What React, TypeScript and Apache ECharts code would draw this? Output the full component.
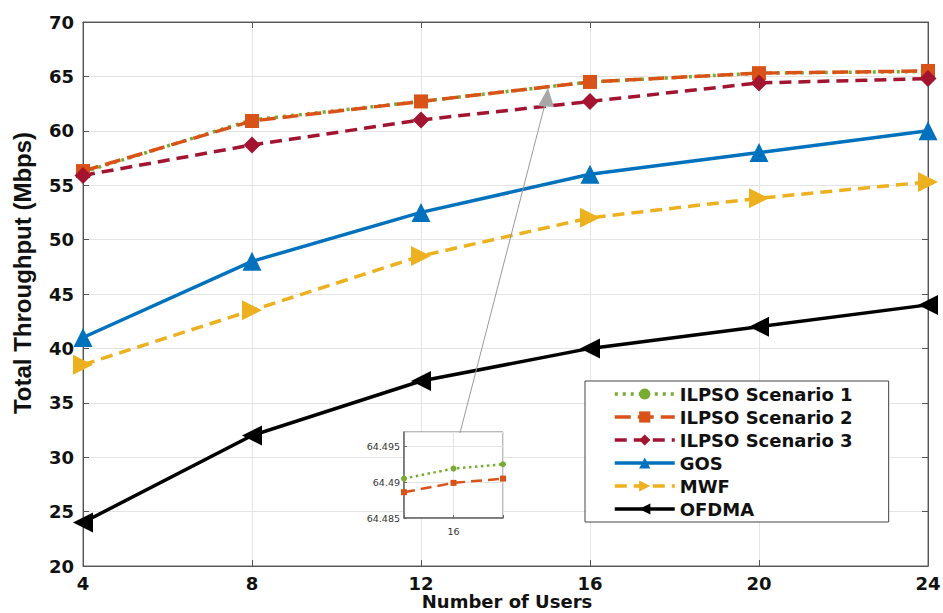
import React, { useEffect, useRef } from "react";
import * as echarts from "echarts";

const users = [4, 8, 12, 16, 20, 24];
const ilpso1 = [56.2, 61.0, 62.7, 64.49, 65.3, 65.45];
const ilpso2 = [56.3, 60.9, 62.7, 64.49, 65.3, 65.5];
const ilpso3 = [55.9, 58.7, 61.0, 62.7, 64.4, 64.8];
const gos = [41, 48, 52.5, 56, 58, 60];
const mwf = [38.5, 43.5, 48.5, 52, 53.8, 55.3];
const ofdma = [24, 32, 37, 40, 42, 44];

const insetX = [15, 16, 17];
const insetIlpso1 = [64.4905, 64.4919, 64.4925];
const insetIlpso2 = [64.4886, 64.4899, 64.4905];

const yTicks = { min: 20, max: 70, interval: 5 };
const xTicks = { min: 4, max: 24, interval: 4 };

const names = ["ILPSO Scenario 1", "ILPSO Scenario 2", "ILPSO Scenario 3", "GOS", "MWF", "OFDMA"];
const yTitle = "Total Throughput (Mbps)";
const xTitle = "Number of Users";

const pair = (xs: number[], ys: number[]) => xs.map((x, i) => [x, ys[i]]);

export default function App() {
  const ref = useRef<HTMLDivElement>(null);
  useEffect(() => {
    if (!ref.current) return;
    const chart = echarts.init(ref.current, undefined, { renderer: "svg" });
    const bold = "DejaVu Sans";
    const lw = 3.5;
    const mainSeries = (name: string, ys: number[], color: string, type: any, symbol: string, size: number, rotate = 0) => ({
      name,
      type: "line",
      xAxisIndex: 0,
      yAxisIndex: 0,
      data: pair(users, ys),
      symbol,
      symbolSize: size,
      symbolRotate: rotate,
      showSymbol: true,
      itemStyle: { color, borderWidth: 0 },
      lineStyle: { color, width: lw, type, cap: "butt" },
      z: 3,
    });
    const option: any = {
      animation: false,
      backgroundColor: "#fff",
      grid: [
        { left: 83, right: 15, top: 22, bottom: 47, outerBoundsMode: "none", containLabel: false, show: true, borderColor: "#666", borderWidth: 1, backgroundColor: "transparent" },
        { left: 404, top: 432, width: 99, height: 86, outerBoundsMode: "none", containLabel: false, show: true, borderColor: "#777", borderWidth: 1, backgroundColor: "#fff", z: 5 },
      ],
      xAxis: [
        {
          type: "value", gridIndex: 0, ...xTicks, position: "bottom",
          axisLine: { show: true, lineStyle: { color: "#555", width: 1 } },
          axisTick: { show: true, inside: true, length: 6, lineStyle: { color: "#555" } },
          splitLine: { show: true, lineStyle: { color: "#e4e4e4", width: 1 } },
          axisLabel: { color: "#111", fontFamily: bold, fontWeight: "bold", fontSize: 18, margin: 8, lineHeight: 18 },
        },
        {
          type: "value", gridIndex: 0, ...xTicks, position: "top",
          axisLine: { show: true, lineStyle: { color: "#555", width: 1 } },
          axisTick: { show: true, inside: true, length: 6, lineStyle: { color: "#555" } },
          splitLine: { show: false }, axisLabel: { show: false },
        },
        {
          type: "value", gridIndex: 1, min: 15, max: 17, interval: 1, z: 6,
          axisLine: { show: true, lineStyle: { color: "#666", width: 1.5 } },
          axisTick: { show: true, inside: true, length: 3, lineStyle: { color: "#666" } },
          splitLine: { show: true, lineStyle: { color: "#e4e4e4" } },
          axisLabel: { color: "#333", fontFamily: bold, fontSize: 9.5, margin: 8, formatter: (v: number) => (v === 16 ? "16" : "") },
        },
      ],
      yAxis: [
        {
          type: "value", gridIndex: 0, ...yTicks, position: "left",
          axisLine: { show: true, lineStyle: { color: "#555", width: 1 } },
          axisTick: { show: true, inside: true, length: 6, lineStyle: { color: "#555" } },
          splitLine: { show: true, lineStyle: { color: "#e4e4e4", width: 1 } },
          axisLabel: { color: "#111", fontFamily: bold, fontWeight: "bold", fontSize: 18, margin: 9 },
        },
        {
          type: "value", gridIndex: 0, ...yTicks, position: "right",
          axisLine: { show: true, lineStyle: { color: "#555", width: 1 } },
          axisTick: { show: true, inside: true, length: 6, lineStyle: { color: "#555" } },
          splitLine: { show: false }, axisLabel: { show: false },
        },
        {
          type: "value", gridIndex: 1, min: 64.485, max: 64.497, interval: 0.005, z: 6,
          axisLine: { show: true, lineStyle: { color: "#666", width: 1.5 } },
          axisTick: { show: true, inside: true, length: 3, lineStyle: { color: "#666" } },
          splitLine: { show: true, lineStyle: { color: "#e4e4e4" } },
          axisLabel: {
            color: "#333", fontFamily: bold, fontSize: 9.5, margin: 4, showMaxLabel: false,
            formatter: (v: number) => String(parseFloat(v.toFixed(3))),
          },
        },
      ],
      legend: {
        data: names,
        orient: "vertical",
        left: 585,
        top: 381,
        padding: [4, 36, 4, 28],
        itemWidth: 60,
        itemHeight: 14,
        itemGap: 5,
        backgroundColor: "#fff",
        borderColor: "#444",
        borderWidth: 1,
        borderRadius: 0,
        z: 10,
        lineStyle: { width: 3.5 },
        textStyle: { color: "#111", fontFamily: bold, fontWeight: "bold", fontSize: 18 },
      },
      series: [
        mainSeries(names[0], ilpso1, "#77AC30", [3, 5], "circle", 8),
        mainSeries(names[1], ilpso2, "#D95319", [16, 7], "rect", 14),
        mainSeries(names[2], ilpso3, "#A2142F", [12, 7], "diamond", 17),
        mainSeries(names[3], gos, "#0072BD", "solid", "triangle", 19),
        mainSeries(names[4], mwf, "#EDB120", [12, 7], "triangle", 20, -90),
        mainSeries(names[5], ofdma, "#000000", "solid", "triangle", 20, 90),
        {
          name: "inset1", type: "line", xAxisIndex: 2, yAxisIndex: 2, z: 7,
          data: pair(insetX, insetIlpso1), symbol: "circle", symbolSize: 6,
          showSymbol: true, itemStyle: { color: "#77AC30" },
          lineStyle: { color: "#77AC30", width: 2.5, type: [2.5, 3.5] },
        },
        {
          name: "inset2", type: "line", xAxisIndex: 2, yAxisIndex: 2, z: 7,
          data: pair(insetX, insetIlpso2), symbol: "rect", symbolSize: 6,
          showSymbol: true, itemStyle: { color: "#D95319" },
          lineStyle: { color: "#D95319", width: 2.5, type: [11, 6] },
        },
      ],
      graphic: [
        {
          type: "text", x: 22, y: 273, rotation: Math.PI / 2,
          style: { text: yTitle, fill: "#111", font: "bold 24px 'Liberation Sans'", align: "center", verticalAlign: "middle" },
        },
        {
          type: "text", x: 507, y: 601,
          style: { text: xTitle, fill: "#111", font: "bold 18px 'DejaVu Sans'", lineHeight: 18, align: "center", verticalAlign: "middle" },
        },
        { type: "line", shape: { x1: 460, y1: 433, x2: 545, y2: 104 }, style: { stroke: "#9a9a9a", lineWidth: 1 }, z: 8 },
        { type: "polygon", shape: { points: [[548, 88], [538, 106], [554, 107]] }, style: { fill: "#a8a8a8" }, z: 8 },
      ],
    };
    chart.setOption(option);
    return () => chart.dispose();
  }, []);
  return <div ref={ref} style={{ width: 943, height: 613, position: "absolute", left: 0, top: 0 }} />;
}
